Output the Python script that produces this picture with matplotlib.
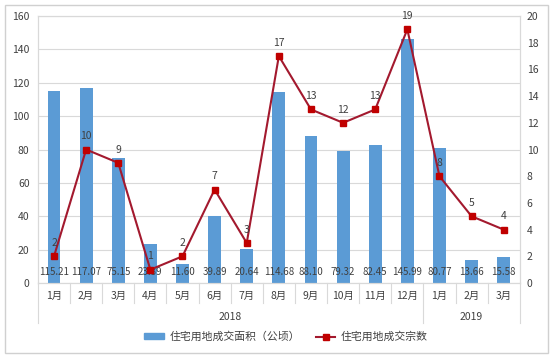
import numpy as np
import matplotlib.pyplot as plt
from matplotlib.patches import Rectangle, Patch
from matplotlib.lines import Line2D

plt.rcParams['font.family'] = ['Noto Sans CJK SC', 'DejaVu Sans']

# data
months = ['1月', '2月', '3月', '4月', '5月', '6月', '7月', '8月', '9月', '10月', '11月', '12月', '1月', '2月', '3月']
years = ['2018', '2019']
year_counts = [12, 3]
area = [115.21, 117.07, 75.15, 23.39, 11.60, 39.89, 20.64, 114.68, 88.10, 79.32, 82.45, 145.99, 80.77, 13.66, 15.58]
deals = [2, 10, 9, 1, 2, 7, 3, 17, 13, 12, 13, 19, 8, 5, 4]

bar_color = '#5B9BD5'
line_color = '#A3192E'
marker_color = '#C00000'
grid_color = '#D9D9D9'
text_color = '#404040'

fig = plt.figure(figsize=(5.5, 3.59), dpi=100)
fig.patches.append(Rectangle((0.009, 0.017), 0.988, 0.968, transform=fig.transFigure,
                             fill=False, edgecolor='#D0D0D0', lw=1))
ax = fig.add_axes([0.069, 0.2117, 0.876, 0.7437])
ax2 = ax.twinx()

x = np.arange(len(months))
ax.bar(x, area, width=0.4, color=bar_color, zorder=2)
ax.set_xlim(-0.5, len(months) - 0.5)
ax.set_ylim(0, 160)
ax.set_yticks(range(0, 161, 20))
ax.yaxis.grid(True, color=grid_color, lw=0.8, zorder=0)
ax.set_axisbelow(True)

for xi, v in zip(x, area):
    ax.annotate(f'{v:.2f}', (xi, 0), xytext=(0, 8), textcoords='offset points',
                ha='center', va='center', fontsize=7, color=text_color, zorder=5)

ax2.plot(x, deals, color=line_color, lw=1.5, marker='s', markersize=4.5,
         markerfacecolor=marker_color, markeredgecolor=marker_color, zorder=3)
ax2.set_ylim(0, 20)
ax2.set_yticks(range(0, 21, 2))
for xi, v in zip(x, deals):
    ax2.annotate(str(v), (xi, v), xytext=(0, 9.5), textcoords='offset points',
                 ha='center', va='center', fontsize=7.5, color=text_color)

for a in (ax, ax2):
    for s in a.spines.values():
        s.set_color(grid_color)
    a.tick_params(length=0, labelsize=7.5, labelcolor=text_color)
ax.tick_params(axis='y', pad=6)
ax2.tick_params(axis='y', pad=5)

ax.set_xticks(x)
ax.set_xticklabels(months, fontsize=7.5, color=text_color)
ax.tick_params(axis='x', pad=6)

# multi-level category axis separators
trans = ax.get_xaxis_transform()
bounds = np.cumsum([0] + year_counts) - 0.5
for b in np.arange(-0.5, len(months)):
    depth = -0.15 if b in bounds else -0.075
    ax.plot([b, b], [0, depth], transform=trans, color=grid_color, lw=0.8, clip_on=False)
for yr, lo, hi in zip(years, bounds[:-1], bounds[1:]):
    ax.text((lo + hi) / 2, -0.128, yr, transform=trans, ha='center', va='center',
            fontsize=7.5, color=text_color)

handles = [Patch(color=bar_color),
           Line2D([], [], color=line_color, lw=1.5, marker='s', markersize=4.5,
                  markerfacecolor=marker_color, markeredgecolor=marker_color)]
fig.legend(handles, ['住宅用地成交面积（公顷）', '住宅用地成交宗数'], loc='center',
           bbox_to_anchor=(0.52, 0.062), ncol=2, frameon=False, fontsize=7.8,
           handlelength=1.8, handleheight=0.5, handletextpad=0.5, columnspacing=1.5,
           labelcolor=text_color)

fig.savefig('out.png', dpi=100)
